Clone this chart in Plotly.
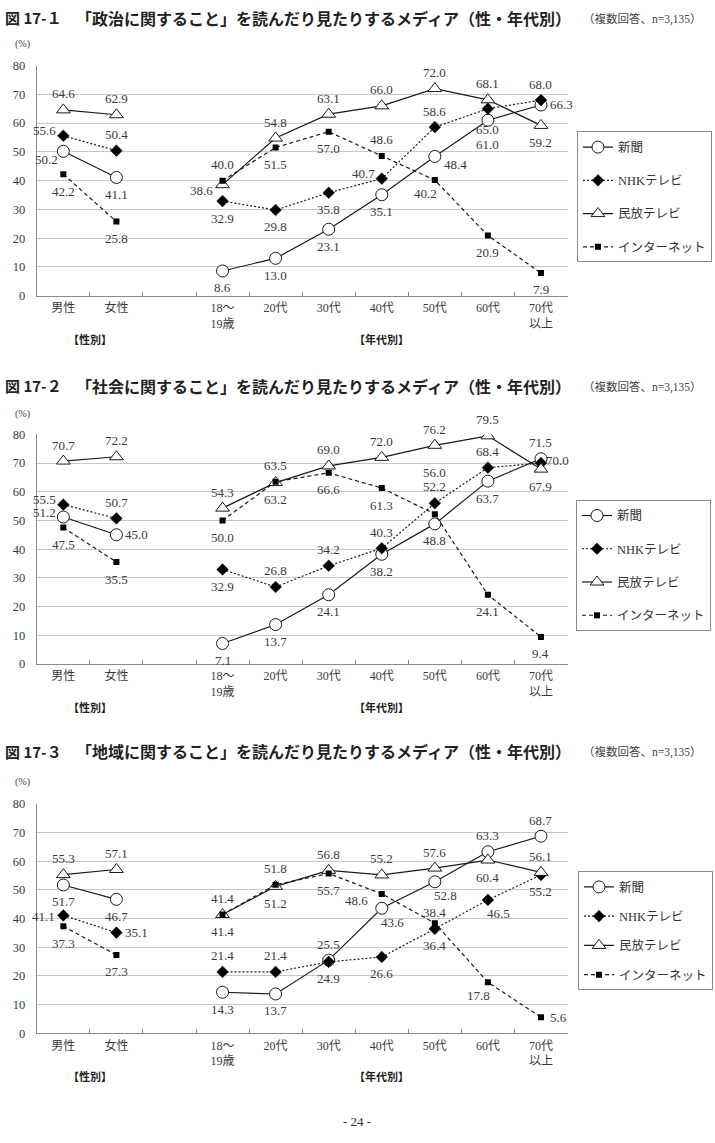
import plotly.graph_objects as go

W, H = 715, 1143

# ---------------- data ----------------
CATEGORIES = ['男性', '女性', '18〜<br>19歳', '20代', '30代', '40代', '50代', '60代', '70代<br>以上']
SERIES_NAMES = ['新聞', 'NHKテレビ', '民放テレビ', 'インターネット']

TITLES = ['「政治に関すること」を読んだり見たりするメディア（性・年代別）',
          '「社会に関すること」を読んだり見たりするメディア（性・年代別）',
          '「地域に関すること」を読んだり見たりするメディア（性・年代別）']
FIG_NUMS = ['図 17-１', '図 17-２', '図 17-３']
SUBTITLE = '（複数回答、n=3,135）'

# 政治
P_SHINBUN = [50.2, 41.1, 8.6, 13.0, 23.1, 35.1, 48.4, 61.0, 66.3]
P_NHK = [55.6, 50.4, 32.9, 29.8, 35.8, 40.7, 58.6, 65.0, 68.0]
P_MINPO = [64.6, 62.9, 38.6, 54.8, 63.1, 66.0, 72.0, 68.1, 59.2]
P_NET = [42.2, 25.8, 40.0, 51.5, 57.0, 48.6, 40.2, 20.9, 7.9]
# 社会
S_SHINBUN = [51.2, 45.0, 7.1, 13.7, 24.1, 38.2, 48.8, 63.7, 71.5]
S_NHK = [55.5, 50.7, 32.9, 26.8, 34.2, 40.3, 56.0, 68.4, 70.0]
S_MINPO = [70.7, 72.2, 54.3, 63.2, 69.0, 72.0, 76.2, 79.5, 67.9]
S_NET = [47.5, 35.5, 50.0, 63.5, 66.6, 61.3, 52.2, 24.1, 9.4]
# 地域
R_SHINBUN = [51.7, 46.7, 14.3, 13.7, 25.5, 43.6, 52.8, 63.3, 68.7]
R_NHK = [41.1, 35.1, 21.4, 21.4, 24.9, 26.6, 36.4, 46.5, 55.2]
R_MINPO = [55.3, 57.1, 41.4, 51.2, 56.8, 55.2, 57.6, 60.4, 56.1]
R_NET = [37.3, 27.3, 41.4, 51.8, 55.7, 48.6, 38.4, 17.8, 5.6]

CHART_DATA = [
    [P_SHINBUN, P_NHK, P_MINPO, P_NET],
    [S_SHINBUN, S_NHK, S_MINPO, S_NET],
    [R_SHINBUN, R_NHK, R_MINPO, R_NET],
]

# label placement codes (per point)
LABEL_POS = [
    [['BL', 'B', 'B', 'B', 'B', 'B', 'BR', 'BB2', 'R'],
     ['TL', 'T', 'B', 'B', 'B', 'TL', 'T', 'BB1', 'T'],
     ['T', 'T', 'LB', 'T', 'T', 'T', 'T', 'T', 'B'],
     ['B', 'B', 'T', 'B', 'B', 'T', 'BLs', 'B', 'B']],
    [['TL', 'R', 'B', 'B', 'B', 'B', 'B', 'B', 'T'],
     ['TL', 'T', 'B', 'T', 'T', 'T', 'TT2', 'T', 'Ru'],
     ['T', 'T', 'T', 'B', 'T', 'T', 'T', 'T', 'B'],
     ['B', 'B', 'B', 'T', 'B', 'B', 'TT1', 'B', 'B']],
    [['B', 'B', 'B', 'B', 'T', 'BRs', 'BRs', 'T', 'T'],
     ['L', 'R', 'T', 'T', 'B', 'B', 'B', 'BRs', 'B'],
     ['T', 'T', 'B', 'B', 'T', 'T', 'T', 'B', 'T'],
     ['B', 'B', 'T', 'T', 'B', 'LB2', 'Ts', 'BLs', 'R']],
]

POS_MAP = {
    'T': ('center', 0, 16), 'Ts': ('center', 0, 11), 'B': ('center', 0, -17),
    'BB1': ('center', 0, -21), 'BB2': ('center', 0, -24),
    'TT1': ('center', 0, 27.5), 'TT2': ('center', 0, 31),
    'R': ('left', 7, 0), 'Ru': ('left', 3, 3), 'L': ('right', -6, -1),
    'TL': ('right', -5, 5), 'BL': ('right', -3, -8), 'LB': ('right', -8, -6),
    'LB2': ('right', -12, -7), 'BR': ('left', 7, -8),
    'BRs': ('center', 11, -14), 'BLs': ('center', -9, -13),
}

# ---------------- layout geometry (pixels) ----------------
PLOT_LEFT, PLOT_RIGHT = 36.8, 567.5
CHART_TOP = [59.3, 432.7, 806.7]
CHART_BOT = [292.3, 665.0, 1039.0]
TITLE_Y = [11, 383.3, 753.3]
PCT_Y = [37, 411.7, 785]
LEGEND_TOP = [126, 499, 875]
LEGEND_LEFT = [577, 576, 578]
LEGEND_GAP = [14, 14, 10]

def px_x(p):
    return p / W

def px_y(p):
    return 1 - p / H

GAP = ' '
AXIS_CATS = CATEGORIES[:2] + [GAP] + CATEGORIES[2:]

SERIF = 'Liberation Serif, Noto Sans CJK JP'
GOTHIC = 'Noto Sans CJK JP'
INK = '#1a1a1a'

STYLES = [
    dict(line=dict(color=INK, width=1.2, dash='solid'),
         marker=dict(symbol='circle', size=12, color='white', line=dict(color=INK, width=1))),
    dict(line=dict(color=INK, width=1.2, dash='2px,2px'),
         marker=dict(symbol='diamond', size=9, color='black', line=dict(color='black', width=0.5))),
    dict(line=dict(color=INK, width=1.2, dash='solid'),
         marker=dict(symbol='triangle-up', size=12, color='white', line=dict(color=INK, width=1))),
    dict(line=dict(color=INK, width=1.2, dash='4px,3px'),
         marker=dict(symbol='square', size=6, color='black', line=dict(color='black', width=0))),
]

fig = go.Figure()
annotations = []

for c in range(3):
    suffix = '' if c == 0 else str(c + 1)
    xa, ya = 'x' + suffix, 'y' + suffix
    legend_name = 'legend' + suffix
    for s in range(4):
        vals = CHART_DATA[c][s]
        xs = AXIS_CATS
        ys = vals[:2] + [None] + vals[2:]
        fig.add_trace(go.Scatter(
            x=xs, y=ys, mode='lines+markers', name=SERIES_NAMES[s],
            xaxis=xa, yaxis=ya, connectgaps=False,
            line=STYLES[s]['line'], marker=STYLES[s]['marker'],
            legend=legend_name, legendgroup=f'g{c}{s}', legendrank=s + 1,
            hoverinfo='skip',
        ))
        for i, v in enumerate(vals):
            anchor, dx, dy = POS_MAP[LABEL_POS[c][s][i]]
            annotations.append(dict(
                x=CATEGORIES[i], y=v, xref=xa, yref=ya, text=f'{v:.1f}',
                showarrow=False, xanchor=anchor, yanchor='middle',
                xshift=dx, yshift=dy,
                font=dict(family=SERIF, size=13, color='#3a3a3a'),
            ))

    dom_x = [px_x(PLOT_LEFT), px_x(PLOT_RIGHT)]
    dom_y = [px_y(CHART_BOT[c]), px_y(CHART_TOP[c])]
    fig.update_layout(**{
        'xaxis' + suffix: dict(
            domain=dom_x, anchor=ya, type='category', categoryorder='array',
            categoryarray=AXIS_CATS, range=[-0.5, len(AXIS_CATS) - 0.5],
            tickson='boundaries', ticks='inside', ticklen=4, tickcolor='#8a8a8a',
            showgrid=False, showline=True, linecolor='#8a8a8a', linewidth=1,
            tickfont=dict(family=SERIF, size=12, color='#3a3a3a'),
            ticklabelstandoff=1, fixedrange=True,
        ),
        'yaxis' + suffix: dict(
            domain=dom_y, anchor=xa, range=[0, 80], tickvals=list(range(0, 81, 10)),
            showgrid=True, gridcolor='#c8c8c8', gridwidth=1, zeroline=False,
            showline=True, linecolor='#8a8a8a', linewidth=1, ticks='',
            tickfont=dict(family=SERIF, size=12.5, color='#3a3a3a'),
            ticklabelstandoff=8, fixedrange=True,
        ),
        legend_name: dict(
            x=px_x(LEGEND_LEFT[c]), y=px_y(LEGEND_TOP[c]), xanchor='left', yanchor='top',
            bordercolor='#8a8a8a', borderwidth=1, bgcolor='white',
            font=dict(family=SERIF, size=12.5, color='#333'),
            tracegroupgap=LEGEND_GAP[c], traceorder='grouped',
        ),
    })

    # titles
    annotations.append(dict(x=px_x(3), y=px_y(TITLE_Y[c]), xref='paper', yref='paper',
                            text=f'<b>{FIG_NUMS[c]}</b>', showarrow=False,
                            xanchor='left', yanchor='middle',
                            font=dict(family=GOTHIC, size=15, color='#222')))
    annotations.append(dict(x=px_x(74), y=px_y(TITLE_Y[c]), xref='paper', yref='paper',
                            text=f'<b>{TITLES[c]}</b>', showarrow=False,
                            xanchor='left', yanchor='middle',
                            font=dict(family=GOTHIC, size=16, color='#222')))
    annotations.append(dict(x=px_x(704), y=px_y(TITLE_Y[c] + 1), xref='paper', yref='paper',
                            text=SUBTITLE, showarrow=False, xanchor='right', yanchor='middle',
                            font=dict(family=SERIF, size=11.5, color='#444')))
    annotations.append(dict(x=px_x(23), y=px_y(PCT_Y[c]), xref='paper', yref='paper',
                            text='(%)', showarrow=False, xanchor='center', yanchor='middle',
                            font=dict(family=SERIF, size=10, color='#444')))
    # group labels
    annotations.append(dict(x=0.5, y=px_y(CHART_BOT[c] + 43.4), xref=xa, yref='paper',
                            text='<b>【性別】</b>', showarrow=False, xanchor='center', yanchor='middle',
                            font=dict(family=GOTHIC, size=11, color='#222')))
    annotations.append(dict(x=6, y=px_y(CHART_BOT[c] + 43.4), xref=xa, yref='paper',
                            text='<b>【年代別】</b>', showarrow=False, xanchor='center', yanchor='middle',
                            font=dict(family=GOTHIC, size=11, color='#222')))

annotations.append(dict(x=px_x(357), y=px_y(1128), xref='paper', yref='paper',
                        text='- 24 -', showarrow=False, xanchor='center', yanchor='middle',
                        font=dict(family=SERIF, size=13, color='#333')))

fig.update_layout(
    width=W, height=H, margin=dict(l=0, r=0, t=0, b=0),
    paper_bgcolor='white', plot_bgcolor='white',
    annotations=annotations, showlegend=True,
)

fig.write_html('out.html', config={'displayModeBar': False})
